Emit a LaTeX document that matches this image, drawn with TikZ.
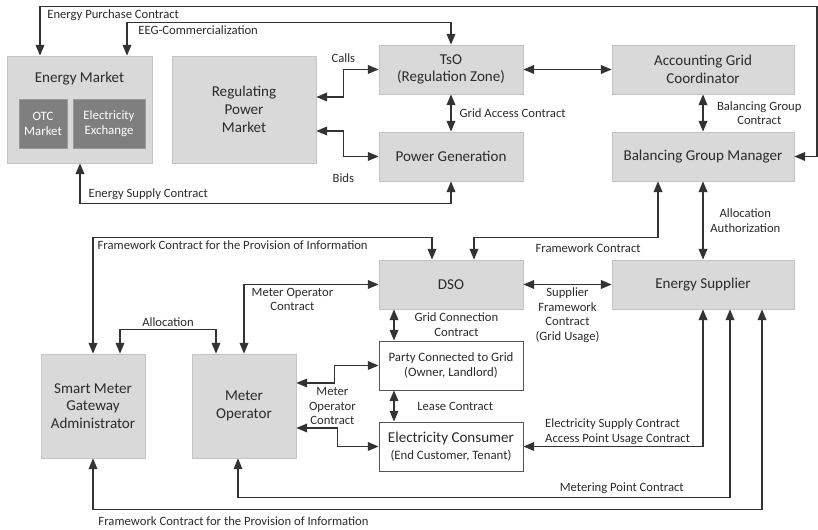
\documentclass[tikz,border=0pt]{standalone}
\usepackage{fontspec}
\setmainfont{Carlito}
\usepackage{tikz}
\usetikzlibrary{arrows.meta,calc,positioning}
\definecolor{boxgray}{HTML}{D9D9D9}
\definecolor{boxline}{HTML}{C4C4C4}
\definecolor{darkbox}{HTML}{7F7F7F}
\definecolor{darkline}{HTML}{9A9A9A}
\definecolor{wline}{HTML}{555555}
\definecolor{linec}{HTML}{333333}
\definecolor{txtc}{HTML}{2B2B2B}
\newcommand{\boxfont}{\fontsize{11.3}{13.3}\selectfont}
\newcommand{\lblfont}{\fontsize{9.5}{11}\selectfont}
\newcommand{\smallboxfont}{\fontsize{9.6}{11.3}\selectfont}

\begin{document}
\begin{tikzpicture}[x=0.75pt, y=-0.75pt,
  gbox/.style = {draw=boxline, fill=boxgray, align=center, text=txtc,
                 font=\boxfont, inner sep=2pt, minimum height=36.75pt,
                 line width=0.6pt},
  dbox/.style = {draw=darkline, fill=darkbox, align=center, text=white,
                 font=\smallboxfont, inner sep=1pt, minimum height=36.75pt,
                 line width=0.6pt},
  wbox/.style = {draw=wline, fill=white, align=center, text=txtc,
                 font=\smallboxfont, inner sep=2pt, minimum width=108pt,
                 minimum height=36.75pt, line width=0.7pt},
  lbl/.style  = {font=\lblfont, text=txtc, align=center, inner sep=2pt},
  arr/.style  = {{Triangle[length=8pt,width=6.5pt]}-{Triangle[length=8pt,width=6.5pt]},
                 line width=1pt, draw=linec},
]
\useasboundingbox (0,0) rectangle (818,530);
% market side
\node[gbox, minimum width=108.75pt, minimum height=80.25pt] (emkt) at (79.5,109.5) {};
\node[font=\boxfont, text=txtc, inner sep=0pt] (emkttxt) at ($(emkt.north)+(0,23)$) {Energy Market};
\node[dbox, minimum width=36pt] (otc) at (43,123.5) {OTC\\Market};
\node[dbox, minimum width=54pt] (exch) at (109,123.5) {Electricity\\Exchange};
\node[gbox, minimum width=108pt, minimum height=80.25pt] (rpm) at (244,109.5) {Regulating\\Power\\Market};
\node[gbox, minimum width=108pt] (tso) at (451,69.5) {TsO\\(Regulation Zone)};
\node[gbox, minimum width=108pt] (pgen) at (451,156.5) {Power Generation};
\node[gbox, minimum width=136.5pt] (agc) at (703,69.5) {Accounting Grid\\Coordinator};
\node[gbox, minimum width=136.5pt] (bgm) at (703,156.5) {Balancing Group Manager};
% grid side
\node[gbox, minimum width=108pt] (dso) at (451,284.5) {DSO};
\node[gbox, minimum width=136.5pt] (esup) at (703,284.5) {Energy Supplier};
\node[wbox] (party) at (451,365.5) {Party Connected to Grid\\(Owner, Landlord)};
\node[wbox] (cons) at (451,446.5) {{\boxfont Electricity Consumer}\\[1pt](End Customer, Tenant)};
\node[gbox, minimum width=78pt, minimum height=78pt] (smga) at (93,406) {Smart Meter\\Gateway\\Administrator};
\node[gbox, minimum width=78pt, minimum height=78pt] (mo) at (244,406) {Meter\\Operator};

% contracts, upper part
\draw[arr] (bgm.east) -- ++(22.5,0) |- node[pos=1, lbl, below right, xshift=3pt] {Energy Purchase Contract}
  ($(emkt.north)+(-39.5,-49)$) -- ($(emkt.north)+(-39.5,0)$);
\draw[arr] (tso.north) -- ++(0,-22) -| node[pos=0.5, lbl, below right, xshift=6pt] {EEG-Commercialization}
  ($(emkt.north)+(47.5,0)$);
\draw[arr] (pgen.south) -- ++(0,22) -| node[pos=0.5, lbl, above right, xshift=4pt] {Energy Supply Contract}
  ($(emkt.south)+(0.5,0)$);
\draw[arr] ($(rpm.east)+(0,-12.5)$) -- ++(27,0) |- node[pos=0.5, lbl, above, yshift=3pt] {Calls} (tso.west);
\draw[arr] ($(rpm.east)+(0,21.5)$) -- ++(27,0) |- node[pos=0.5, lbl, below, yshift=-10.5pt] {Bids} (pgen.west);
\draw[arr] (tso.east) -- (agc.west);
\draw[arr] (tso.south) -- node[lbl, right, xshift=4pt] {Grid Access Contract} (pgen.north);
\draw[arr] (agc.south) -- node[lbl, right, xshift=8pt] {Balancing Group\\Contract} (bgm.north);
\draw[arr] (bgm.south) -- node[lbl, right, xshift=3pt] {Allocation\\Authorization} (esup.north);
\draw[arr] ($(bgm.south)+(-45,0)$) -- ++(0,56) -| node[pos=0.19, lbl, below, yshift=-2pt] {Framework Contract}
  ($(dso.north)+(23,0)$);
\draw[arr] ($(dso.north)+(-19,0)$) -- ++(0,-22) -| node[pos=0.5, lbl, below right, xshift=1pt]
  {Framework Contract for the Provision of Information} (smga.north);

% contracts, lower part
\draw[arr] ($(smga.north)+(27,0)$) -- ++(0,-24) -| node[pos=0.25, lbl, above] {Allocation} ($(mo.north)+(-28,0)$);
\draw[arr] (mo.north) |- node[pos=0.68, lbl, below] {Meter Operator\\Contract} (dso.west);
\draw[arr] (dso.east) -- node[lbl, below] {Supplier\\Framework\\Contract\\(Grid Usage)} (esup.west);
\draw[arr] ($(dso.south)+(-57,0)$) -- node[lbl, right, xshift=13pt] {Grid Connection\\Contract} ($(party.north)+(-57,0)$);
\draw[arr] ($(party.south)+(-57,0)$) -- node[lbl, right, xshift=15pt] {Lease Contract} ($(cons.north)+(-57,0)$);
\draw[arr] ($(mo.east)+(0,-23)$) -- ++(38,0) |- (party.west);
\draw[arr] ($(mo.east)+(0,22)$) -- ++(41,0) |- (cons.west);
\node[lbl] (mocl) at ($(mo.east)+(36,0)$) {Meter\\Operator\\Contract};
\draw[arr] (esup.south) |- node[pos=0.945, lbl, above right, align=left, inner sep=1pt]
  {Electricity Supply Contract\\Access Point Usage Contract} (cons.east);
\draw[arr] ($(esup.south)+(27,0)$) -- ++(0,188) -| node[pos=0.11, lbl, above] {Metering Point Contract}
  ($(mo.south)+(-6,0)$);
\draw[arr] ($(esup.south)+(59,0)$) -- ++(0,200) -| node[pos=0.395, lbl, below, yshift=-3pt]
  {Framework Contract for the Provision of Information} (smga.south);
\end{tikzpicture}
\end{document}
